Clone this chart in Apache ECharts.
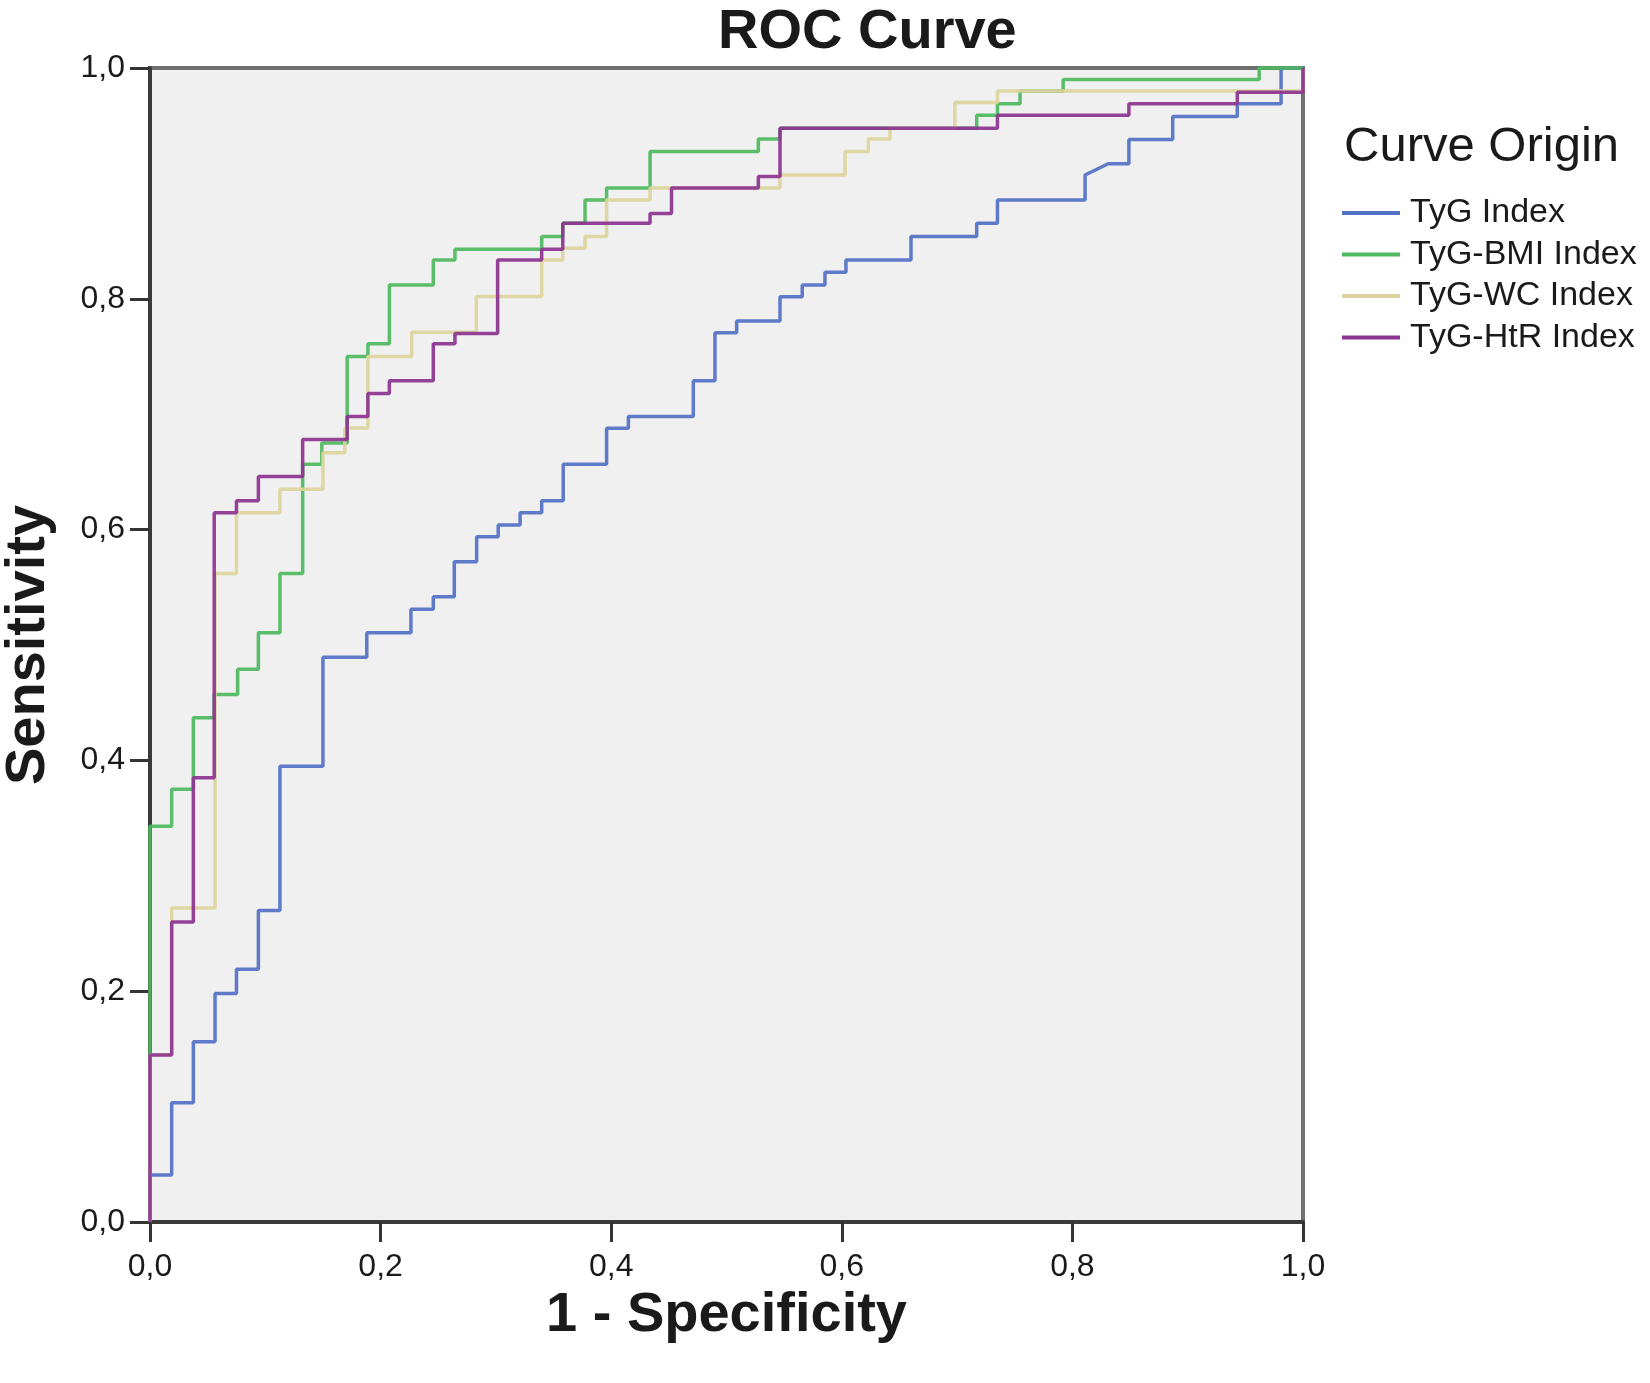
<!DOCTYPE html>
<html>
<head>
<meta charset="utf-8">
<script src="https://cdn.jsdelivr.net/npm/echarts@6/dist/echarts.min.js"></script>
<style>
html,body{margin:0;padding:0;background:#fff;}
#chart{width:1650px;height:1383px;}
</style>
</head>
<body>
<div id="chart"></div>
<script>
// ---- Data ----
const seriesNames = ['TyG Index', 'TyG-BMI Index', 'TyG-WC Index', 'TyG-HtR Index'];
const tickLabels = ['0,0', '0,2', '0,4', '0,6', '0,8', '1,0'];

// TyG Index vertices (1 - specificity, sensitivity)
const tygX = [0, 0, 0.0188, 0.0188, 0.0376, 0.0376, 0.0564, 0.0564, 0.075, 0.075, 0.094, 0.094, 0.1127, 0.1127, 0.150, 0.150, 0.188, 0.188, 0.2263, 0.2263, 0.2457, 0.2457, 0.2639, 0.2639, 0.2833, 0.2833, 0.302, 0.302, 0.321, 0.321, 0.3397, 0.3397, 0.3584, 0.3584, 0.396, 0.396, 0.4149, 0.4149, 0.4712, 0.4712, 0.490, 0.490, 0.5088, 0.5088, 0.5464, 0.5464, 0.5657, 0.5657, 0.5854, 0.5854, 0.6036, 0.6036, 0.660, 0.660, 0.717, 0.717, 0.735, 0.735, 0.811, 0.811, 0.831, 0.849, 0.849, 0.887, 0.887, 0.943, 0.943, 0.981, 0.981, 1];
const tygY = [0, 0.0407, 0.0407, 0.1034, 0.1034, 0.1563, 0.1563, 0.198, 0.198, 0.219, 0.219, 0.270, 0.270, 0.395, 0.395, 0.4893, 0.4893, 0.5107, 0.5107, 0.531, 0.531, 0.5419, 0.5419, 0.5722, 0.5722, 0.5938, 0.5938, 0.604, 0.604, 0.6147, 0.6147, 0.625, 0.625, 0.6566, 0.6566, 0.6878, 0.6878, 0.698, 0.698, 0.729, 0.729, 0.7706, 0.7706, 0.7808, 0.7808, 0.8018, 0.8018, 0.812, 0.812, 0.823, 0.823, 0.8336, 0.8336, 0.854, 0.854, 0.8654, 0.8654, 0.8856, 0.8856, 0.9073, 0.917, 0.917, 0.938, 0.938, 0.958, 0.958, 0.969, 0.969, 1, 1];

// TyG-BMI Index vertices
const bmiX = [0, 0, 0.0188, 0.0188, 0.0376, 0.0376, 0.0557, 0.0557, 0.076, 0.076, 0.094, 0.094, 0.1127, 0.1127, 0.1324, 0.1324, 0.149, 0.149, 0.171, 0.171, 0.189, 0.189, 0.2076, 0.2076, 0.2457, 0.2457, 0.2645, 0.2645, 0.3397, 0.3397, 0.358, 0.358, 0.3773, 0.3773, 0.396, 0.396, 0.4337, 0.4337, 0.5276, 0.5276, 0.5464, 0.5464, 0.717, 0.717, 0.735, 0.735, 0.7546, 0.7546, 0.792, 0.792, 0.962, 0.962, 1];
const bmiY = [0, 0.343, 0.343, 0.375, 0.375, 0.437, 0.437, 0.457, 0.457, 0.479, 0.479, 0.5107, 0.5107, 0.562, 0.562, 0.6566, 0.6566, 0.675, 0.675, 0.750, 0.750, 0.761, 0.761, 0.812, 0.812, 0.8336, 0.8336, 0.843, 0.843, 0.854, 0.854, 0.8654, 0.8654, 0.8856, 0.8856, 0.896, 0.896, 0.9276, 0.9276, 0.9385, 0.9385, 0.9478, 0.9478, 0.959, 0.959, 0.969, 0.969, 0.980, 0.980, 0.990, 0.990, 1, 1];

// TyG-WC Index vertices
const wcX = [0, 0, 0.0188, 0.0188, 0.0564, 0.0564, 0.075, 0.075, 0.1127, 0.1127, 0.150, 0.150, 0.169, 0.169, 0.189, 0.189, 0.227, 0.227, 0.283, 0.283, 0.3397, 0.3397, 0.358, 0.358, 0.3773, 0.3773, 0.396, 0.396, 0.4337, 0.4337, 0.5464, 0.5464, 0.6028, 0.6028, 0.623, 0.623, 0.6418, 0.6418, 0.698, 0.698, 0.735, 0.735, 1, 1];
const wcY = [0, 0.145, 0.145, 0.272, 0.272, 0.562, 0.562, 0.6147, 0.6147, 0.635, 0.635, 0.6667, 0.6667, 0.688, 0.688, 0.750, 0.750, 0.771, 0.771, 0.802, 0.802, 0.8336, 0.8336, 0.8437, 0.8437, 0.854, 0.854, 0.8856, 0.8856, 0.896, 0.896, 0.9073, 0.9073, 0.9276, 0.9276, 0.9385, 0.9385, 0.9478, 0.9478, 0.970, 0.970, 0.980, 0.980, 1];

// TyG-HtR Index vertices
const htrX = [0, 0, 0.0188, 0.0188, 0.0376, 0.0376, 0.0557, 0.0557, 0.075, 0.075, 0.094, 0.094, 0.1324, 0.1324, 0.171, 0.171, 0.189, 0.189, 0.2076, 0.2076, 0.2457, 0.2457, 0.2645, 0.2645, 0.3015, 0.3015, 0.3397, 0.3397, 0.358, 0.358, 0.4337, 0.4337, 0.4523, 0.4523, 0.5276, 0.5276, 0.5464, 0.5464, 0.735, 0.735, 0.849, 0.849, 0.943, 0.943, 1, 1];
const htrY = [0, 0.1447, 0.1447, 0.260, 0.260, 0.385, 0.385, 0.6147, 0.6147, 0.625, 0.625, 0.646, 0.646, 0.678, 0.678, 0.698, 0.698, 0.718, 0.718, 0.729, 0.729, 0.761, 0.761, 0.770, 0.770, 0.8336, 0.8336, 0.843, 0.843, 0.8654, 0.8654, 0.874, 0.874, 0.896, 0.896, 0.906, 0.906, 0.9478, 0.9478, 0.959, 0.959, 0.969, 0.969, 0.979, 0.979, 1];

const seriesColors = ['#5270c4', '#4db85e', '#dcd49c', '#8c3290'];

// ---- Build chart ----
function pairs(xs, ys) { return xs.map((x, i) => [x, ys[i]]); }
const curves = [pairs(tygX, tygY), pairs(bmiX, bmiY), pairs(wcX, wcY), pairs(htrX, htrY)];

const FONT = '"Liberation Sans", Arial, Helvetica, sans-serif';
const chart = echarts.init(document.getElementById('chart'), null, { renderer: 'canvas' });

chart.setOption({
  backgroundColor: '#ffffff',
  animation: false,
  title: [
    {
      text: 'ROC Curve',
      left: 713, top: 0,
      textStyle: { fontFamily: FONT, fontSize: 56, fontWeight: 'bold', color: '#1a1a1a' }
    },
    {
      text: 'Curve Origin',
      left: 1344, top: 123,
      padding: 0,
      textStyle: { fontFamily: FONT, fontSize: 49, fontWeight: 'normal', color: '#1a1a1a' }
    }
  ],
  legend: {
    data: seriesNames,
    orient: 'vertical',
    left: 1342, top: 193,
    padding: 0,
    itemGap: 1.5,
    itemWidth: 58, itemHeight: 4,
    icon: 'rect',
    textStyle: { fontFamily: FONT, fontSize: 34, color: '#1a1a1a', lineHeight: 40, padding: [0, 0, 0, 5] }
  },
  grid: {
    left: 150, right: 347, top: 68, bottom: 161,
    containLabel: false,
    outerBoundsMode: 'none',
    show: true,
    backgroundColor: '#f0f0f0',
    borderColor: '#707070',
    borderWidth: 4
  },
  xAxis: {
    type: 'value', min: 0, max: 1, interval: 0.2,
    name: '1 - Specificity',
    nameLocation: 'middle', nameGap: 62,
    nameTextStyle: { fontFamily: FONT, fontSize: 56, fontWeight: 'bold', color: '#1a1a1a' },
    axisLine: { show: true, onZero: false, lineStyle: { color: '#3a3a3a', width: 4 } },
    axisTick: { show: true, inside: false, length: 20, lineStyle: { color: '#333', width: 3 } },
    axisLabel: {
      margin: 29, fontFamily: FONT, fontSize: 32, color: '#1a1a1a',
      formatter: v => tickLabels[Math.round(v * 5)]
    },
    splitLine: { show: false }
  },
  yAxis: {
    type: 'value', min: 0, max: 1, interval: 0.2,
    name: 'Sensitivity',
    nameLocation: 'middle', nameGap: 93,
    nameTextStyle: { fontFamily: FONT, fontSize: 56, fontWeight: 'bold', color: '#1a1a1a' },
    axisLine: { show: true, onZero: false, lineStyle: { color: '#3a3a3a', width: 4 } },
    axisTick: { show: true, inside: false, length: 20, lineStyle: { color: '#333', width: 3 } },
    axisLabel: {
      margin: 25, fontFamily: FONT, fontSize: 32, color: '#1a1a1a',
      formatter: v => tickLabels[Math.round(v * 5)]
    },
    splitLine: { show: false }
  },
  series: seriesNames.map((name, i) => ({
    name: name,
    type: 'line',
    data: curves[i],
    showSymbol: false,
    symbol: 'none',
    clip: false,
    color: seriesColors[i],
    lineStyle: { color: seriesColors[i], width: 3.5, opacity: 0.92 },
    itemStyle: { color: seriesColors[i] },
    emphasis: { disabled: true },
    z: 3 + i
  }))
});
</script>
</body>
</html>
